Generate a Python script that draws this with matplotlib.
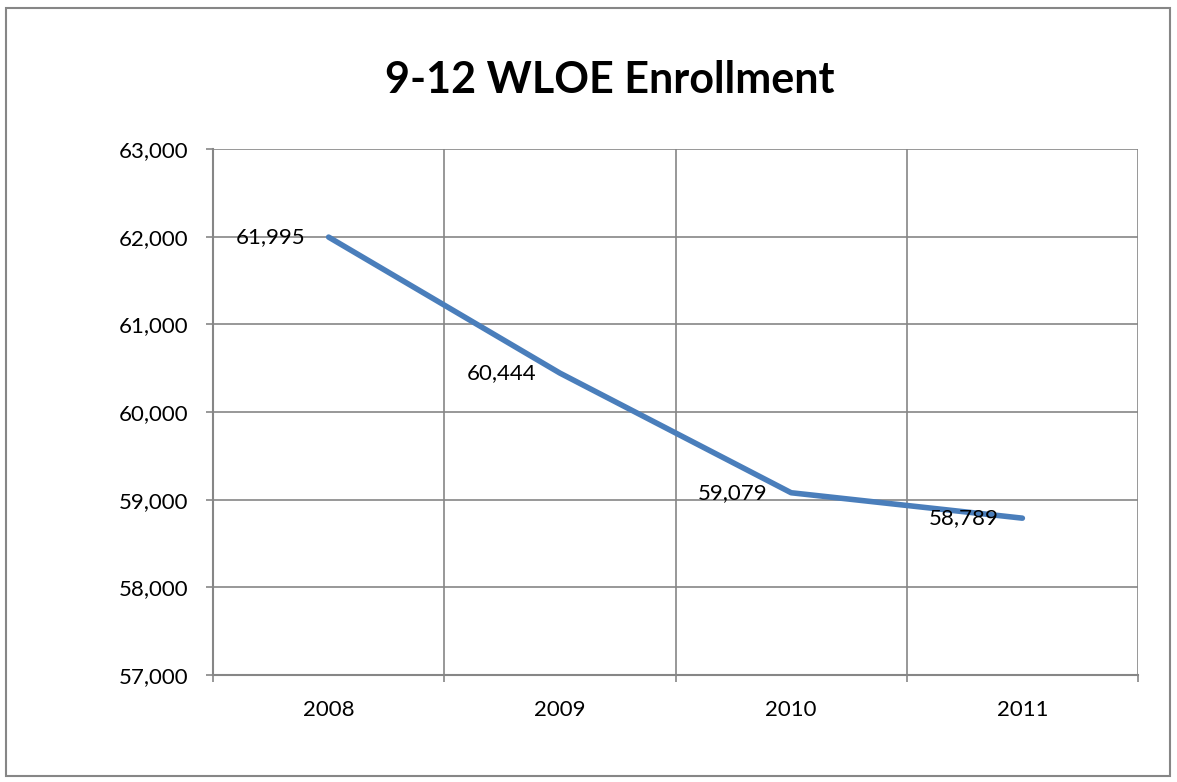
import matplotlib as mpl
mpl.use("Agg")
import matplotlib.pyplot as plt
from matplotlib.patches import Rectangle
from matplotlib.ticker import FuncFormatter, FixedLocator

YEARS = ["2008", "2009", "2010", "2011"]
ENROLLMENT = [61995, 60444, 59079, 58789]
Y_TICKS = [57000, 58000, 59000, 60000, 61000, 62000, 63000]

GRID = "#868686"
LINE = "#4A7EBB"

plt.rcParams["font.family"] = ["Lato", "DejaVu Sans"]

fig = plt.figure(figsize=(11.77, 7.82), dpi=100)
fig.patches.append(Rectangle((6 / 1177, 6 / 782), 1164 / 1177, 768 / 782,
                             transform=fig.transFigure, fill=False,
                             edgecolor=GRID, linewidth=1.5))

ax = fig.add_axes([213 / 1177, 1 - 675 / 782, 925 / 1177, 526 / 782])
x = list(range(len(YEARS)))
ax.plot(x, ENROLLMENT, color=LINE, linewidth=4, solid_capstyle="round", zorder=3)

for xi, val in zip(x, ENROLLMENT):
    ax.annotate(f"{val:,}", (xi, val), xytext=(-17, 0), textcoords="offset points",
                ha="right", va="center", fontsize=16, color="black", zorder=4)

ax.set_xlim(-0.5, len(YEARS) - 0.5)
ax.set_ylim(Y_TICKS[0], Y_TICKS[-1])
ax.yaxis.set_major_locator(FixedLocator(Y_TICKS))
ax.yaxis.set_major_formatter(FuncFormatter(lambda v, _: f"{int(v):,}"))
ax.set_xticks(x)
ax.set_xticklabels(YEARS)
ax.set_xticks([i - 0.5 for i in range(len(YEARS) + 1)], minor=True)

ax.grid(True, which="major", axis="y", color=GRID, linewidth=1.2)
ax.grid(True, which="minor", axis="x", color=GRID, linewidth=1.2)
ax.tick_params(axis="x", which="major", length=0, pad=18, labelsize=16)
ax.tick_params(axis="x", which="minor", length=5, width=1.2, color=GRID, direction="out")
ax.tick_params(axis="y", length=5, width=1.2, color=GRID, direction="out", pad=13, labelsize=16)

for side in ["top", "right"]:
    ax.spines[side].set_visible(False)
for side in ["left", "bottom"]:
    ax.spines[side].set_color(GRID)
    ax.spines[side].set_linewidth(1.5)

fig.text(610 / 1177, 1 - 80 / 782, "9-12 WLOE Enrollment", ha="center", va="center",
         fontsize=31, fontweight="bold")

fig.savefig("out.png", dpi=100)
